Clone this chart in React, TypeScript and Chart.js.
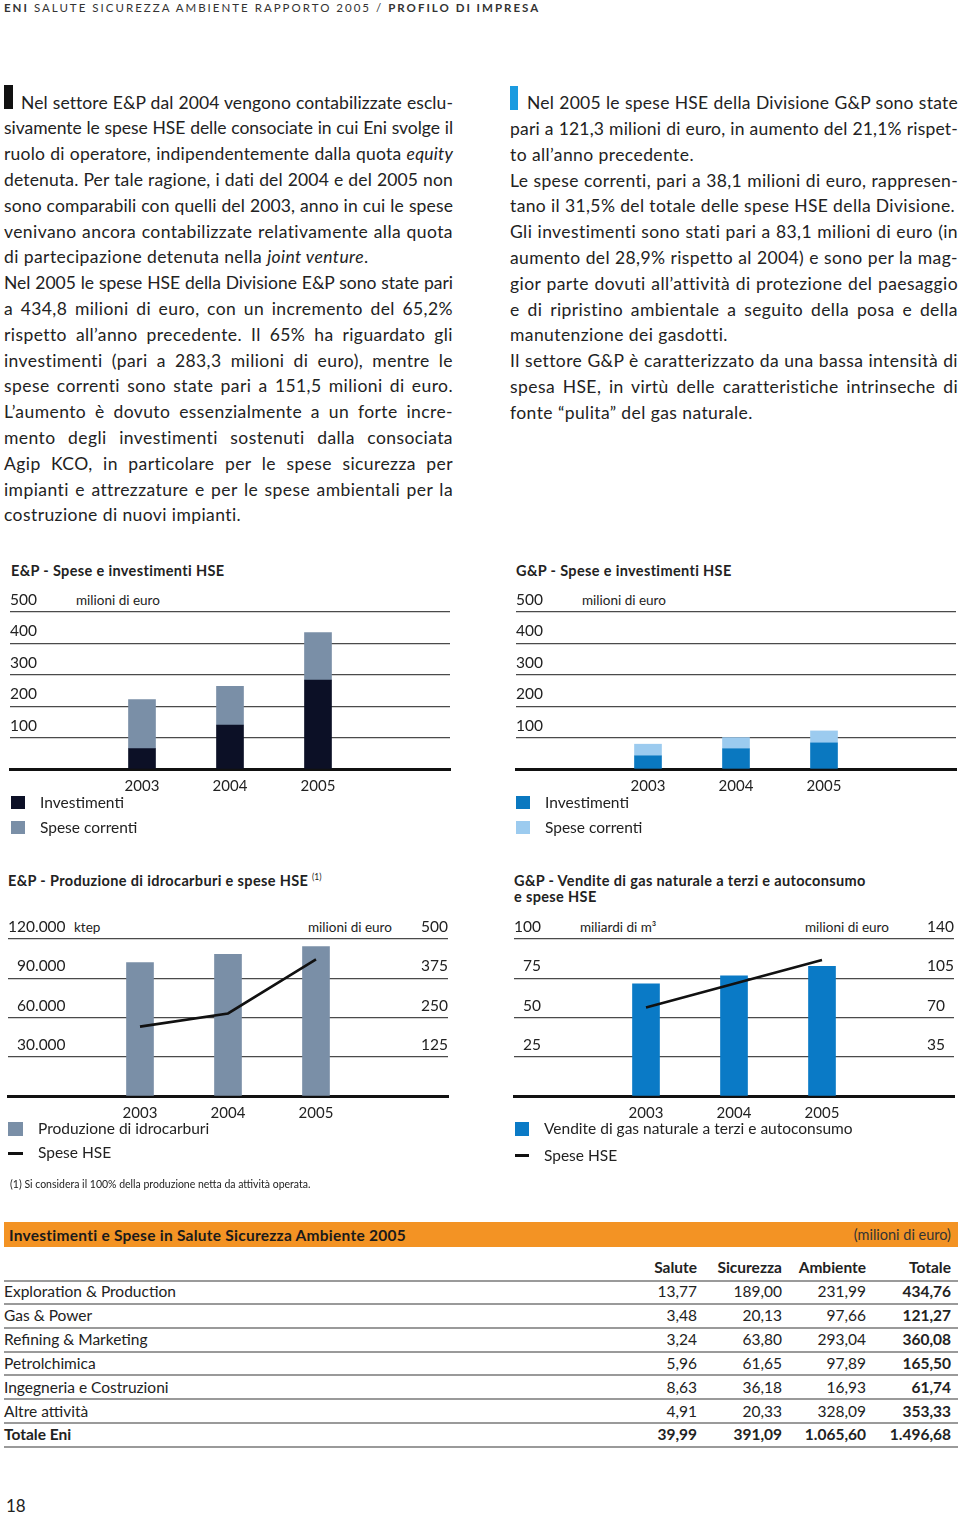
import React, { useEffect, useRef } from 'react';
import { Chart, registerables } from 'chart.js';
Chart.register(...registerables);

const FONT = 'Lato, "Noto Sans", sans-serif';
Chart.defaults.font.family = FONT;

// ---------- data ----------
const years = ['2003', '2004', '2005'];
const epInvestimenti = [65, 140, 283.3];
const epSpeseCorrenti = [156, 123, 151.5];
const gpInvestimenti = [42, 64.5, 83.1];
const gpSpeseCorrenti = [37, 35.7, 38.2];
const epProduzione = [102000, 108300, 114200];
const epSpeseHSE = [221, 263, 434.8];
const gpVendite = [71.4, 76.5, 82.6];
const gpSpeseHSE = [79, 100.2, 121.3];

const spendTicks = [100, 200, 300, 400, 500];
const prodTicks = [30000, 60000, 90000, 120000];
const prodHseTicks = [125, 250, 375, 500];
const gasTicks = [25, 50, 75, 100];
const gasHseTicks = [35, 70, 105, 140];

const tableRows = ['Exploration & Production', 'Gas & Power', 'Refining & Marketing', 'Petrolchimica', 'Ingegneria e Costruzioni', 'Altre attività', 'Totale Eni'];
const tableSalute = ['13,77', '3,48', '3,24', '5,96', '8,63', '4,91', '39,99'];
const tableSicurezza = ['189,00', '20,13', '63,80', '61,65', '36,18', '20,33', '391,09'];
const tableAmbiente = ['231,99', '97,66', '293,04', '97,89', '16,93', '328,09', '1.065,60'];
const tableTotale = ['434,76', '121,27', '360,08', '165,50', '61,74', '353,33', '1.496,68'];

// ---------- colours ----------
const C_EP_INV = '#0c1026';
const C_SLATE = '#7a8fa7';
const C_GP_INV = '#0a78c0';
const C_GP_CUR = '#9ccbef';
const C_GAS = '#0a7ac6';
const C_GRID = '#4a4a4a';
const C_TEXT = '#222';

const fmtIt = (v: number) => String(v).replace(/\B(?=(\d{3})+(?!\d))/g, '.');
const pad = (arr: number[]) => [null, ...arr, null];
const xLabels = ['', ...years, ''];

function xScale(stacked: boolean) {
  return {
    type: 'category',
    labels: xLabels,
    offset: true,
    stacked,
    grid: { display: false },
    border: { display: true, color: '#111', width: 3 },
    ticks: { color: C_TEXT, font: { size: 15, family: FONT }, padding: 0, autoSkip: false, maxRotation: 0 },
    afterFit: (s: any) => { s.height = 30; },
  };
}

function yScale(ticks: number[], position: string, crossAlign: string, showGrid: boolean, stacked: boolean) {
  return {
    type: 'linear',
    position,
    stacked,
    min: 0,
    max: ticks[ticks.length - 1],
    ticks: {
      stepSize: ticks[0],
      mirror: true,
      padding: 0,
      labelOffset: -12,
      crossAlign,
      color: C_TEXT,
      font: { size: 15.5, family: FONT },
      callback: (v: number) => (v === 0 ? '' : fmtIt(v)),
    },
    grid: {
      display: showGrid,
      drawTicks: false,
      lineWidth: 1.3,
      color: (c: any) => (c.tick && c.tick.value === 0 ? 'rgba(0,0,0,0)' : C_GRID),
    },
    border: { display: false },
    afterFit: (s: any) => { s.width = 0; },
  };
}

const baseOpts = (padL: number, scales: any) => ({
  animation: false,
  responsive: false,
  events: [],
  layout: { padding: { left: padL, right: padL, top: 27, bottom: 0 } },
  plugins: { legend: { display: false }, tooltip: { enabled: false } },
  scales,
});

function stackedConfig(inv: number[], cur: number[], cInv: string, cCur: string) {
  return {
    type: 'bar',
    data: {
      labels: xLabels,
      datasets: [
        { label: 'Investimenti', data: pad(inv), backgroundColor: cInv, barThickness: 27, stack: 's' },
        { label: 'Spese correnti', data: pad(cur), backgroundColor: cCur, barThickness: 27, stack: 's' },
      ],
    },
    options: baseOpts(10, { x: xScale(true), y: yScale(spendTicks, 'left', 'near', true, true) }),
  };
}

function comboConfig(bars: number[], line: number[], cBar: string, barLabel: string, lt: number[], rt: number[], leftAlign: string, rightAlign: string) {
  return {
    type: 'bar',
    data: {
      labels: xLabels,
      datasets: [
        { type: 'line', label: 'Spese HSE', data: pad(line), yAxisID: 'y1', borderColor: '#111', borderWidth: 2.6, pointRadius: 0, tension: 0, fill: false, order: 0 },
        { type: 'bar', label: barLabel, data: pad(bars), yAxisID: 'y', backgroundColor: cBar, barThickness: 27, order: 1 },
      ],
    },
    options: baseOpts(8, {
      x: xScale(false),
      y: yScale(lt, 'left', leftAlign, true, false),
      y1: yScale(rt, 'right', rightAlign, false, false),
    }),
  };
}

function ChartBox({ left, top, width, height, make }: any) {
  const ref = useRef<HTMLCanvasElement>(null);
  useEffect(() => {
    const c = new Chart(ref.current as HTMLCanvasElement, make());
    return () => c.destroy();
  }, []);
  return <canvas ref={ref} width={width} height={height} style={{ position: 'absolute', left, top, width, height }} />;
}

// ---------- text helpers ----------
type Seg = [string, string?];
let mctx: CanvasRenderingContext2D | null = null;
function measure(segs: Seg[], size: number) {
  if (!mctx) mctx = document.createElement('canvas').getContext('2d');
  let w = 0;
  for (const s of segs) {
    (mctx as CanvasRenderingContext2D).font = `${s[1] === 'i' ? 'italic ' : ''}${s[1] === 'b' ? 'bold ' : ''}${size}px Lato`;
    w += (mctx as CanvasRenderingContext2D).measureText(s[0]).width;
  }
  return w;
}
const renderSegs = (segs: Seg[]) =>
  segs.map((s, i) =>
    s[1] === 'i' ? <i key={i}>{s[0]}</i> : s[1] === 'b' ? <b key={i}>{s[0]}</b> : <span key={i}>{s[0]}</span>
  );

const BODY_LS = 0.42;
function Line({ x, top, w, segs, justify, size = 17.5, lh = 25.8 }: any) {
  const n = segs.reduce((a: number, s: Seg) => a + s[0].length, 0);
  const natural = measure(segs, size) + n * BODY_LS;
  let ls = BODY_LS;
  if (natural > w - 3) ls = BODY_LS + (w - 3 - natural) / n;
  return (
    <div style={{ position: 'absolute', left: x, top, width: w, fontSize: size, lineHeight: lh + 'px', letterSpacing: ls, textAlign: justify ? 'justify' : 'left', textAlignLast: justify ? 'justify' : 'left', color: C_TEXT } as any}>
      {renderSegs(segs)}
    </div>
  );
}

function T({ x, cy, size = 15.5, bold = false, right, children, color = C_TEXT, ls = 0 }: any) {
  const top = cy - 0.627 * size;
  const style: any = { position: 'absolute', top, fontSize: size, lineHeight: size * 1.2 + 'px', fontWeight: bold ? 700 : 400, whiteSpace: 'nowrap', color, letterSpacing: ls };
  if (right !== undefined) { style.left = right - 300; style.width = 300; style.textAlign = 'right'; }
  else style.left = x;
  return <div style={style}>{children}</div>;
}

const Box = ({ x, y, w, h, c }: any) => <div style={{ position: 'absolute', left: x, top: y, width: w, height: h, background: c }} />;

const leftLines: [Seg[], boolean][] = [
  [[['Nel settore E&P dal 2004 vengono contabilizzate esclu-']], true],
  [[['sivamente le spese HSE delle consociate in cui Eni svolge il']], true],
  [[['ruolo di operatore, indipendentemente dalla quota '], ['equity', 'i']], true],
  [[['detenuta. Per tale ragione, i dati del 2004 e del 2005 non']], true],
  [[['sono comparabili con quelli del 2003, anno in cui le spese']], true],
  [[['venivano ancora contabilizzate relativamente alla quota']], true],
  [[['di partecipazione detenuta nella '], ['joint venture', 'i'], ['.']], false],
  [[['Nel 2005 le spese HSE della Divisione E&P sono state pari']], true],
  [[['a 434,8 milioni di euro, con un incremento del 65,2%']], true],
  [[['rispetto all’anno precedente. Il 65% ha riguardato gli']], true],
  [[['investimenti (pari a 283,3 milioni di euro), mentre le']], true],
  [[['spese correnti sono state pari a 151,5 milioni di euro.']], true],
  [[['L’aumento è dovuto essenzialmente a un forte incre-']], true],
  [[['mento degli investimenti sostenuti dalla consociata']], true],
  [[['Agip KCO, in particolare per le spese sicurezza per']], true],
  [[['impianti e attrezzature e per le spese ambientali per la']], true],
  [[['costruzione di nuovi impianti.']], false],
];
const rightLines: [Seg[], boolean][] = [
  [[['Nel 2005 le spese HSE della Divisione G&P sono state']], true],
  [[['pari a 121,3 milioni di euro, in aumento del 21,1% rispet-']], true],
  [[['to all’anno precedente.']], false],
  [[['Le spese correnti, pari a 38,1 milioni di euro, rappresen-']], true],
  [[['tano il 31,5% del totale delle spese HSE della Divisione.']], false],
  [[['Gli investimenti sono stati pari a 83,1 milioni di euro (in']], true],
  [[['aumento del 28,9% rispetto al 2004) e sono per la mag-']], true],
  [[['gior parte dovuti all’attività di protezione del paesaggio']], true],
  [[['e di ripristino ambientale a seguito della posa e della']], true],
  [[['manutenzione dei gasdotti.']], false],
  [[['Il settore G&P è caratterizzato da una bassa intensità di']], true],
  [[['spesa HSE, in virtù delle caratteristiche intrinseche di']], true],
  [[['fonte “pulita” del gas naturale.']], false],
];

function Header() {
  const segs: Seg[] = [['ENI', 'b'], [' SALUTE SICUREZZA AMBIENTE RAPPORTO 2005 / '], ['PROFILO DI IMPRESA', 'b']];
  const size = 11.5;
  const natural = measure(segs, size);
  const n = segs.reduce((a, s) => a + s[0].length, 0);
  const ls = (537 - natural) / n;
  return (
    <div style={{ position: 'absolute', left: 4, top: 0, fontSize: size, lineHeight: '15px', letterSpacing: ls, whiteSpace: 'nowrap', color: '#333' }}>
      {renderSegs(segs)}
    </div>
  );
}

const rowCy = [1292, 1316, 1340, 1364, 1388, 1411.5, 1435];
const rowLines = [1280.7, 1304, 1327.7, 1351.7, 1375.3, 1399, 1423, 1446.7];
const colRight = [697, 782, 866, 951];

export default function App() {
  const top0 = 89.6;
  const TS = 14.5;
  const TLS = 0.35;
  return (
    <div style={{ position: 'absolute', left: 0, top: 0, width: 960, height: 1515, background: '#fff', fontFamily: FONT, overflow: 'hidden' }}>
      <Header />

      <Box x={3.5} y={85} w={9} h={24} c="#111" />
      {leftLines.map(([segs, j], i) => (
        <Line key={'l' + i} x={i === 0 ? 21 : 4} w={i === 0 ? 432 : 449} top={top0 + i * 25.8} segs={segs} justify={j} />
      ))}
      <Box x={510} y={86} w={8} h={24} c="#1b9be0" />
      {rightLines.map(([segs, j], i) => (
        <Line key={'r' + i} x={i === 0 ? 527 : 510} w={i === 0 ? 431 : 448} top={top0 + 0.6 + i * 25.8} segs={segs} justify={j} />
      ))}

      {/* Chart 1 */}
      <T x={11} cy={571} size={TS} bold ls={TLS}>E&amp;P - Spese e investimenti HSE</T>
      <T x={76} cy={600.5} size={13.5}>milioni di euro</T>
      <ChartBox left={0} top={585} width={460} height={214} make={() => stackedConfig(epInvestimenti, epSpeseCorrenti, C_EP_INV, C_SLATE)} />
      <Box x={11} y={796} w={14} h={13} c={C_EP_INV} />
      <T x={40} cy={802.5} size={15.5}>Investimenti</T>
      <Box x={11} y={821} w={14} h={13} c={C_SLATE} />
      <T x={40} cy={828} size={15.5}>Spese correnti</T>

      {/* Chart 2 */}
      <T x={516} cy={571} size={TS} bold ls={TLS}>G&amp;P - Spese e investimenti HSE</T>
      <T x={582} cy={600.5} size={13.5}>milioni di euro</T>
      <ChartBox left={506} top={585} width={460} height={214} make={() => stackedConfig(gpInvestimenti, gpSpeseCorrenti, C_GP_INV, C_GP_CUR)} />
      <Box x={516} y={796} w={14} h={13} c={C_GP_INV} />
      <T x={545} cy={802.5} size={15.5}>Investimenti</T>
      <Box x={516} y={821} w={14} h={13} c={C_GP_CUR} />
      <T x={545} cy={828} size={15.5}>Spese correnti</T>

      {/* Chart 3 */}
      <T x={8} cy={881.5} size={TS} bold ls={TLS}>
        E&amp;P - Produzione di idrocarburi e spese HSE <span style={{ fontSize: 8.5, position: 'relative', top: -6, fontWeight: 400, letterSpacing: 0 }}>(1)</span>
      </T>
      <T x={74} cy={927.5} size={13.5}>ktep</T>
      <T x={308} cy={927.5} size={13.5}>milioni di euro</T>
      <ChartBox left={0} top={912} width={456} height={214} make={() => comboConfig(epProduzione, epSpeseHSE, C_SLATE, 'Produzione di idrocarburi', prodTicks, prodHseTicks, 'far', 'near')} />
      <Box x={8} y={1122} w={15} h={14} c={C_SLATE} />
      <T x={38} cy={1129} size={15.5}>Produzione di idrocarburi</T>
      <Box x={8} y={1152} w={15} h={3} c="#111" />
      <T x={38} cy={1153} size={15.5}>Spese HSE</T>
      <T x={10} cy={1185} size={10.5}>(1) Si considera il 100% della produzione netta da attività operata.</T>

      {/* Chart 4 */}
      <T x={514} cy={881} size={TS} bold ls={TLS}>G&amp;P - Vendite di gas naturale a terzi e autoconsumo</T>
      <T x={514} cy={897} size={TS} bold ls={TLS}>e spese HSE</T>
      <T x={580} cy={927.5} size={13.5}>miliardi di m³</T>
      <T x={805} cy={927.5} size={13.5}>milioni di euro</T>
      <ChartBox left={506} top={912} width={456} height={214} make={() => comboConfig(gpVendite, gpSpeseHSE, C_GAS, 'Vendite di gas naturale a terzi e autoconsumo', gasTicks, gasHseTicks, 'far', 'far')} />
      <Box x={515} y={1122} w={14} h={14} c={C_GAS} />
      <T x={544} cy={1129} size={15.5}>Vendite di gas naturale a terzi e autoconsumo</T>
      <Box x={515} y={1154} w={14} h={3} c="#111" />
      <T x={544} cy={1155.5} size={15.5}>Spese HSE</T>

      {/* Table */}
      <Box x={4} y={1222} w={954} h={25} c="#f39324" />
      <T x={9} cy={1235.5} size={15.5} bold color="#1a1a1a" ls={0.25}>Investimenti e Spese in Salute Sicurezza Ambiente 2005</T>
      <T right={951} cy={1235.5} size={14.5} color="#333">(milioni di euro)</T>
      {['Salute', 'Sicurezza', 'Ambiente', 'Totale'].map((h, i) => (
        <T key={'h' + i} right={colRight[i]} cy={1268} size={15.5} bold>{h}</T>
      ))}
      {rowLines.map((y, i) => (
        <Box key={'rl' + i} x={4} y={y - 1} w={954} h={2} c="#9a9a9a" />
      ))}
      {tableRows.map((r, i) => {
        const last = i === tableRows.length - 1;
        return (
          <React.Fragment key={'row' + i}>
            <T x={4} cy={rowCy[i]} size={15.5} bold={last}>{r}</T>
            <T right={colRight[0]} cy={rowCy[i]} size={15.5} bold={last}>{tableSalute[i]}</T>
            <T right={colRight[1]} cy={rowCy[i]} size={15.5} bold={last}>{tableSicurezza[i]}</T>
            <T right={colRight[2]} cy={rowCy[i]} size={15.5} bold={last}>{tableAmbiente[i]}</T>
            <T right={colRight[3]} cy={rowCy[i]} size={15.5} bold>{tableTotale[i]}</T>
          </React.Fragment>
        );
      })}

      <T x={6} cy={1507} size={17}>18</T>
    </div>
  );
}
